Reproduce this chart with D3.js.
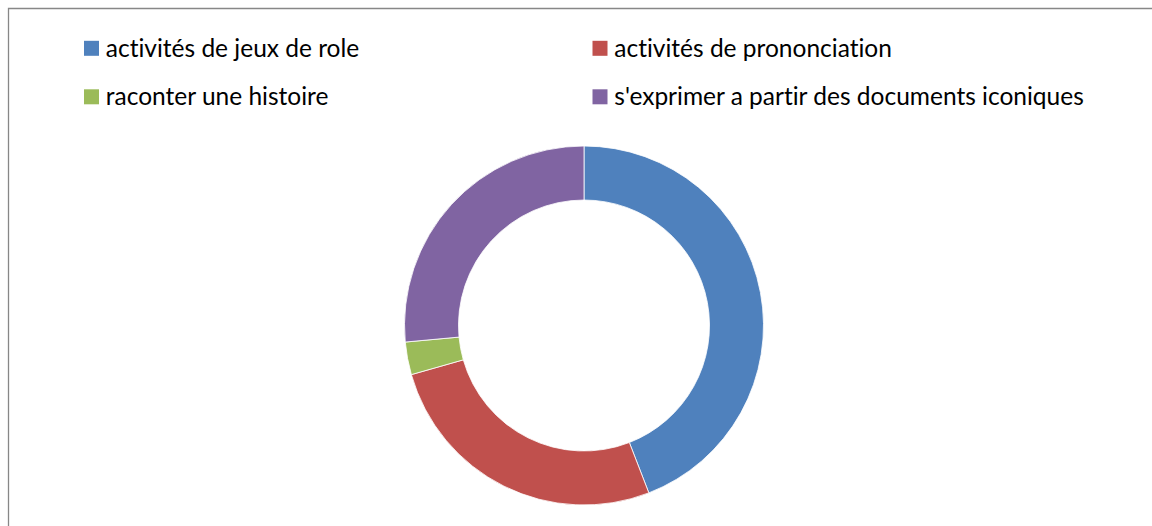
<!DOCTYPE html>
<html><head><meta charset="utf-8">
<script src="https://cdn.jsdelivr.net/npm/d3@7"></script>
<style>body{margin:0;background:#fff}svg{display:block}text{font-variant-ligatures:none;font-feature-settings:"liga" 0}</style>
</head><body>
<svg id="c" width="1152" height="526"></svg>
<script>
const categories = ["activités de jeux de role","activités de prononciation","raconter une histoire","s'exprimer a partir des documents iconiques"];
const values = [15, 9, 1, 9];
const colors = ["#4F81BD","#C0504D","#9BBB59","#8064A2"];

const svg = d3.select("#c");
// frame
svg.append("path").attr("d","M8.5,526 L8.5,8.5 L1152,8.5").attr("fill","none").attr("stroke","#878787").attr("stroke-width",1.3);

const cx = 584, cy = 325.5, rOuter = 179.5, rInner = 125.5;
const pie = d3.pie().sort(null).value(d=>d)(values);
const arc = d3.arc().innerRadius(rInner).outerRadius(rOuter);
const g = svg.append("g").attr("transform",`translate(${cx},${cy})`);
g.selectAll("path").data(pie).join("path")
  .attr("d",arc).attr("fill",(d,i)=>colors[i])
  .attr("stroke","#fff").attr("stroke-width",0.8);

// legend
const legX = [84, 592.5], legY = [48.3, 96.8];
const lg = svg.append("g");
categories.forEach((c,i)=>{
  const x = legX[i%2], y = legY[Math.floor(i/2)];
  lg.append("rect").attr("x",x).attr("y",y-7.5).attr("width",15).attr("height",15).attr("fill",colors[i]);
  lg.append("text").attr("x",x+21.8).attr("y",y).attr("dy","0.35em")
    .attr("font-family","Lato, 'Open Sans', sans-serif").attr("font-size",24.5).attr("fill","#000").text(c);
});
</script>
</body></html>
